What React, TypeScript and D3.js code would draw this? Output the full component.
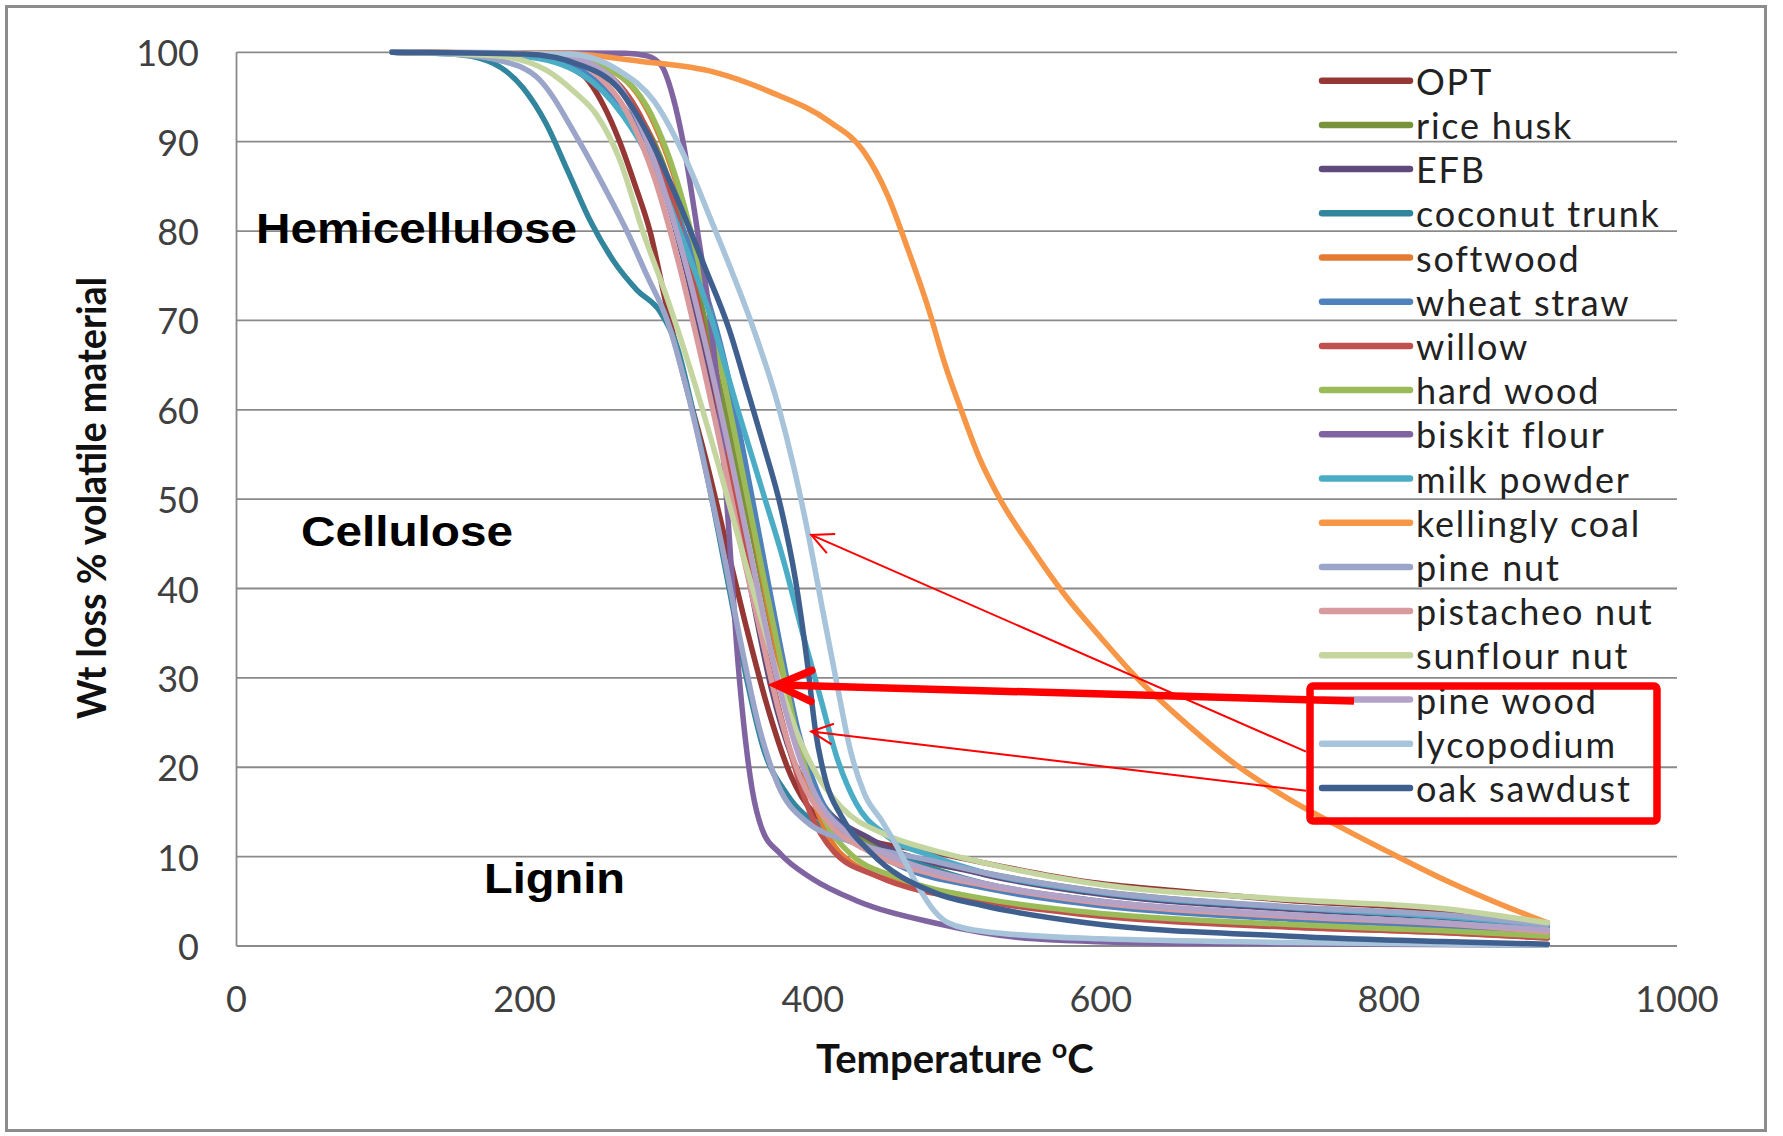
import React from "react";
import * as d3 from "d3";

const W = 1783;
const H = 1136;

const xTicks = [0, 200, 400, 600, 800, 1000];
const yTicks = [0, 10, 20, 30, 40, 50, 60, 70, 80, 90, 100];

// [temperature °C, wt loss % volatile]
const opt = [[108,100],[200,99.7],[240,97.5],[255,94],[266,90],[277,85],[287,80],[298,72],[310,64],[325,55],[340,45],[355,35],[370,26],[385,19],[400,15],[430,12.3],[484,10.5],[519,9.3],[590,7.2],[650,6.2],[731,5.1],[837,4],[910,2.6]];
const riceHusk = [[108,100],[200,99.8],[250,98],[275,94],[295,88],[312,79],[328,68],[343,57],[358,46],[372,35],[386,25],[400,18],[420,13.5],[450,10.8],[519,8.2],[590,6.3],[731,4.3],[837,3.3],[910,2.2]];
const efb = [[108,100],[210,99.8],[255,97.5],[280,92],[298,84],[313,75],[328,64],[343,52],[357,40],[371,29],[386,21],[405,16],[440,12],[519,8],[590,6],[731,4.1],[837,3.2],[910,2.2]];
const coconutTrunk = [[108,100],[150,99.8],[175,99],[199,96],[215,92],[230,86.7],[246,81],[262,76.6],[278,73.4],[294,71],[306,67],[318,59],[330,50],[342,40],[354,30],[366,22],[382,17],[410,13],[450,10.5],[519,7],[590,5.2],[731,3.4],[837,2.6],[910,1.7]];
const softwood = [[108,100],[220,99.8],[265,97.5],[290,92],[308,84],[324,74],[340,62],[355,50],[369,38],[383,27],[397,18],[412,12],[430,9],[470,6.8],[519,5.2],[590,3.6],[731,2.2],[837,1.5],[910,0.9]];
const wheatStraw = [[108,100],[210,99.8],[248,97],[268,94],[285,90],[300,84],[313,79],[326,73],[338,66],[351,56],[364,45],[377,34],[390,24],[404,17],[425,12.5],[460,9],[519,6.5],[590,4.7],[731,3],[837,2.2],[910,1.4]];
const willow = [[108,100],[220,99.8],[258,97.5],[280,93],[298,86],[313,77],[328,66],[342,54],[356,42],[370,31],[384,22],[398,15],[415,10.5],[445,7.8],[519,5],[590,3.5],[731,2.1],[837,1.5],[910,0.9]];
const hardWood = [[108,100],[220,99.8],[265,97.5],[288,93],[305,86],[320,77],[335,66],[350,54],[365,42],[379,31],[393,21],[407,14.5],[425,10.5],[460,7.6],[519,5.3],[590,3.8],[731,2.4],[837,1.7],[910,1.1]];
const biskitFlour = [[108,100],[270,99.9],[285,99.6],[295,98.5],[303,95],[310,90],[320,80],[329,70],[336,59],[342,46],[347,34],[352,25],[358,17.5],[365,13],[377,10.4],[400,7.5],[430,5.1],[484,2.6],[554,0.8],[650,0.3],[910,0.1]];
const milkPowder = [[108,100],[200,99.5],[240,97.5],[268,93],[290,87],[310,79],[330,70],[348,60],[365,51],[380,43],[393,35],[405,28],[417,21],[430,16],[450,12.5],[484,10],[519,8.2],[590,6.2],[731,4.3],[837,3.3],[910,2.3]];
const kellinglyCoal = [[108,100],[225,99.9],[280,99],[331,97.8],[370,95.6],[412,92.2],[435,89],[452,84],[466,78],[480,71.5],[492,65],[503,60],[516,54.5],[530,50],[552,44.5],[574,39.5],[600,34.5],[625,30],[655,25.5],[692,20.5],[730,16.5],[770,13],[800,10.5],[840,7.3],[880,4.5],[910,2.6]];
const pineNut = [[108,100],[150,99.8],[185,99],[210,97],[238,90],[255,85],[271,80],[285,75],[299,70],[313,62],[326,53],[338,44],[350,34],[362,25],[376,18],[395,14],[430,11.5],[484,9.5],[519,8.2],[590,6.3],[731,4.4],[837,3.5],[910,2.4]];
const pistacheoNut = [[108,100],[220,99.7],[250,97.5],[272,93],[290,86],[306,77],[321,67],[336,56],[350,45],[364,35],[377,26],[391,19],[410,14],[440,10.5],[484,8],[519,6.8],[590,5],[731,3.3],[837,2.5],[910,1.6]];
const sunflourNut = [[108,100],[180,99.6],[215,98],[235,95.5],[250,93],[266,88],[282,80],[300,72],[318,63],[336,53],[353,43],[369,34],[384,26],[400,20],[420,15.5],[450,12.5],[484,10.7],[519,9.3],[590,7.1],[731,5.2],[837,4.2],[910,2.6]];
const pineWood = [[108,100],[220,99.8],[258,97.5],[280,92],[298,84],[314,75],[329,65],[344,54],[358,43],[376,29.5],[390,21.5],[405,16],[425,12.5],[455,10],[519,7],[590,5.2],[731,3.5],[837,2.6],[910,1.8]];
const lycopodium = [[108,100],[230,99.8],[265,98],[290,94.5],[312,88],[330,81],[345,75],[359,69],[376,60.5],[387,53.5],[397,46],[407,37.5],[416,30],[426,22],[436,17],[448,14],[459,11],[472,7],[484,4],[494,2.6],[520,1.6],[600,0.8],[731,0.4],[910,0.1]];
const oakSawdust = [[108,100],[200,99.8],[240,98.5],[265,96],[285,91],[305,84],[325,76],[342,69],[355,62],[366,56],[378,49],[388,41],[396,32],[402,24],[409,18.5],[420,14.5],[440,10.5],[484,6],[519,4.5],[590,2.6],[731,1.1],[837,0.5],[910,0.2]];

const seriesNames = ["OPT","rice husk","EFB","coconut trunk","softwood","wheat straw","willow","hard wood","biskit flour","milk powder","kellingly coal","pine nut","pistacheo nut","sunflour nut","pine wood","lycopodium","oak sawdust"];
const seriesData = [opt, riceHusk, efb, coconutTrunk, softwood, wheatStraw, willow, hardWood, biskitFlour, milkPowder, kellinglyCoal, pineNut, pistacheoNut, sunflourNut, pineWood, lycopodium, oakSawdust];
const seriesColors = ["#953735","#77933C","#604A7B","#31859C","#E37B33","#4F81BD","#C0504D","#9BBB59","#8064A2","#4BACC6","#F79646","#9AA5C9","#D99A9D","#C4D5A0","#B3A2C7","#A8C4DA","#3F5F8F"];

// annotation arrow targets (data coordinates)
const bigArrowTip = [375, 29.2];
const thinArrowTips = [[399, 46], [399, 24]];

export default function App() {
  const x = d3.scaleLinear().domain([0, 1000]).range([236.5, 1677]);
  const y = d3.scaleLinear().domain([0, 100]).range([946, 52.3]);
  const line = d3
    .line<number[]>()
    .x((d) => x(d[0]))
    .y((d) => y(d[1]))
    .curve(d3.curveMonotoneX);

  const gridColor = "#8a8a8a";
  const legX1 = 1322;
  const legX2 = 1410;
  const legY0 = 80.7;
  const legDy = 44.2;

  const arrowHead = (tx: number, ty: number, fx: number, fy: number, len: number, ang: number) => {
    const a = Math.atan2(fy - ty, fx - tx);
    const p1 = [tx + len * Math.cos(a + ang), ty + len * Math.sin(a + ang)];
    const p2 = [tx + len * Math.cos(a - ang), ty + len * Math.sin(a - ang)];
    return `M${p1[0]},${p1[1]}L${tx},${ty}L${p2[0]},${p2[1]}`;
  };

  const bt = [x(bigArrowTip[0]), y(bigArrowTip[1])];
  const bigFrom = [1354, 701];
  const thinFrom = [[1306, 751.7], [1306, 790.7]];

  return (
    <div>
      <style>{`body{margin:0;background:#fff}`}</style>
      <svg width={W} height={H} viewBox={`0 0 ${W} ${H}`} style={{ display: "block" }}>
        <rect x={0} y={0} width={W} height={H} fill="#fff" />
        <rect x={6.5} y={6.5} width={1759} height={1124} fill="none" stroke="#8c8c8c" strokeWidth={3} />

        {/* gridlines */}
        {yTicks.map((t) => (
          <line key={"g" + t} x1={x(0)} x2={x(1000)} y1={y(t)} y2={y(t)} stroke={gridColor} strokeWidth={1.8} />
        ))}
        <line x1={x(0)} x2={x(0)} y1={y(100)} y2={y(0)} stroke={gridColor} strokeWidth={1.8} />

        {/* y tick labels */}
        {yTicks.map((t) => (
          <text key={"yl" + t} x={199} y={y(t)} textAnchor="end" dominantBaseline="central"
            fontFamily="Lato" fontSize={36} fill="#404040">{t}</text>
        ))}
        {/* x tick labels */}
        {xTicks.map((t) => (
          <text key={"xl" + t} x={x(t)} y={1012} textAnchor="middle"
            fontFamily="Lato" fontSize={36} fill="#404040">{t}</text>
        ))}

        {/* axis titles */}
        <text transform="translate(106,498) rotate(-90)" textAnchor="middle" fontFamily="Lato" fontWeight="bold"
          fontSize={40} fill="#111" textLength={442} lengthAdjust="spacingAndGlyphs">Wt loss % volatile material</text>
        <text x={816} y={1073} fontFamily="Lato" fontWeight="bold" fontSize={40} fill="#111">
          Temperature <tspan dy={-15} fontSize={27}>o</tspan><tspan dy={15}>C</tspan>
        </text>

        {/* series */}
        {seriesData.map((d, i) => (
          <path key={seriesNames[i]} d={line(d as any) || ""} fill="none" stroke={seriesColors[i]}
            strokeWidth={5.5} strokeLinejoin="round" strokeLinecap="round" />
        ))}

        {/* region labels */}
        <text x={256} y={243} fontFamily="Liberation Sans" fontWeight="bold" fontSize={43} fill="#000"
          textLength={321} lengthAdjust="spacingAndGlyphs">Hemicellulose</text>
        <text x={301} y={546} fontFamily="Liberation Sans" fontWeight="bold" fontSize={43} fill="#000"
          textLength={212} lengthAdjust="spacingAndGlyphs">Cellulose</text>
        <text x={484} y={893} fontFamily="Liberation Sans" fontWeight="bold" fontSize={43} fill="#000"
          textLength={141} lengthAdjust="spacingAndGlyphs">Lignin</text>

        {/* legend */}
        {seriesNames.map((n, i) => (
          <g key={"leg" + n}>
            <line x1={legX1} x2={legX2} y1={legY0 + i * legDy} y2={legY0 + i * legDy}
              stroke={seriesColors[i]} strokeWidth={6.5} strokeLinecap="round" />
            <text x={1416} y={legY0 + i * legDy} dominantBaseline="central" fontFamily="Lato" fontSize={36}
              letterSpacing={1.8} fill="#222">{n}</text>
          </g>
        ))}

        {/* annotations */}
        <rect x={1310} y={686} width={347} height={135} rx={3} fill="none" stroke="#ff0000" strokeWidth={7.5} />
        <line x1={bigFrom[0]} y1={bigFrom[1]} x2={bt[0] + 4} y2={bt[1]} stroke="#ff0000" strokeWidth={7.5} />
        <path d={arrowHead(bt[0], bt[1], bigFrom[0], bigFrom[1], 38, 0.42)} fill="none" stroke="#ff0000"
          strokeWidth={7.5} strokeLinecap="round" strokeLinejoin="miter" />
        {thinArrowTips.map((tp, i) => {
          const tx = x(tp[0]);
          const ty = y(tp[1]);
          const f = thinFrom[i];
          return (
            <g key={"ta" + i}>
              <line x1={f[0]} y1={f[1]} x2={tx} y2={ty} stroke="#ff0000" strokeWidth={2} />
              <path d={arrowHead(tx, ty, f[0], f[1], 24, 0.45)} fill="none" stroke="#ff0000" strokeWidth={2} />
            </g>
          );
        })}
      </svg>
    </div>
  );
}
